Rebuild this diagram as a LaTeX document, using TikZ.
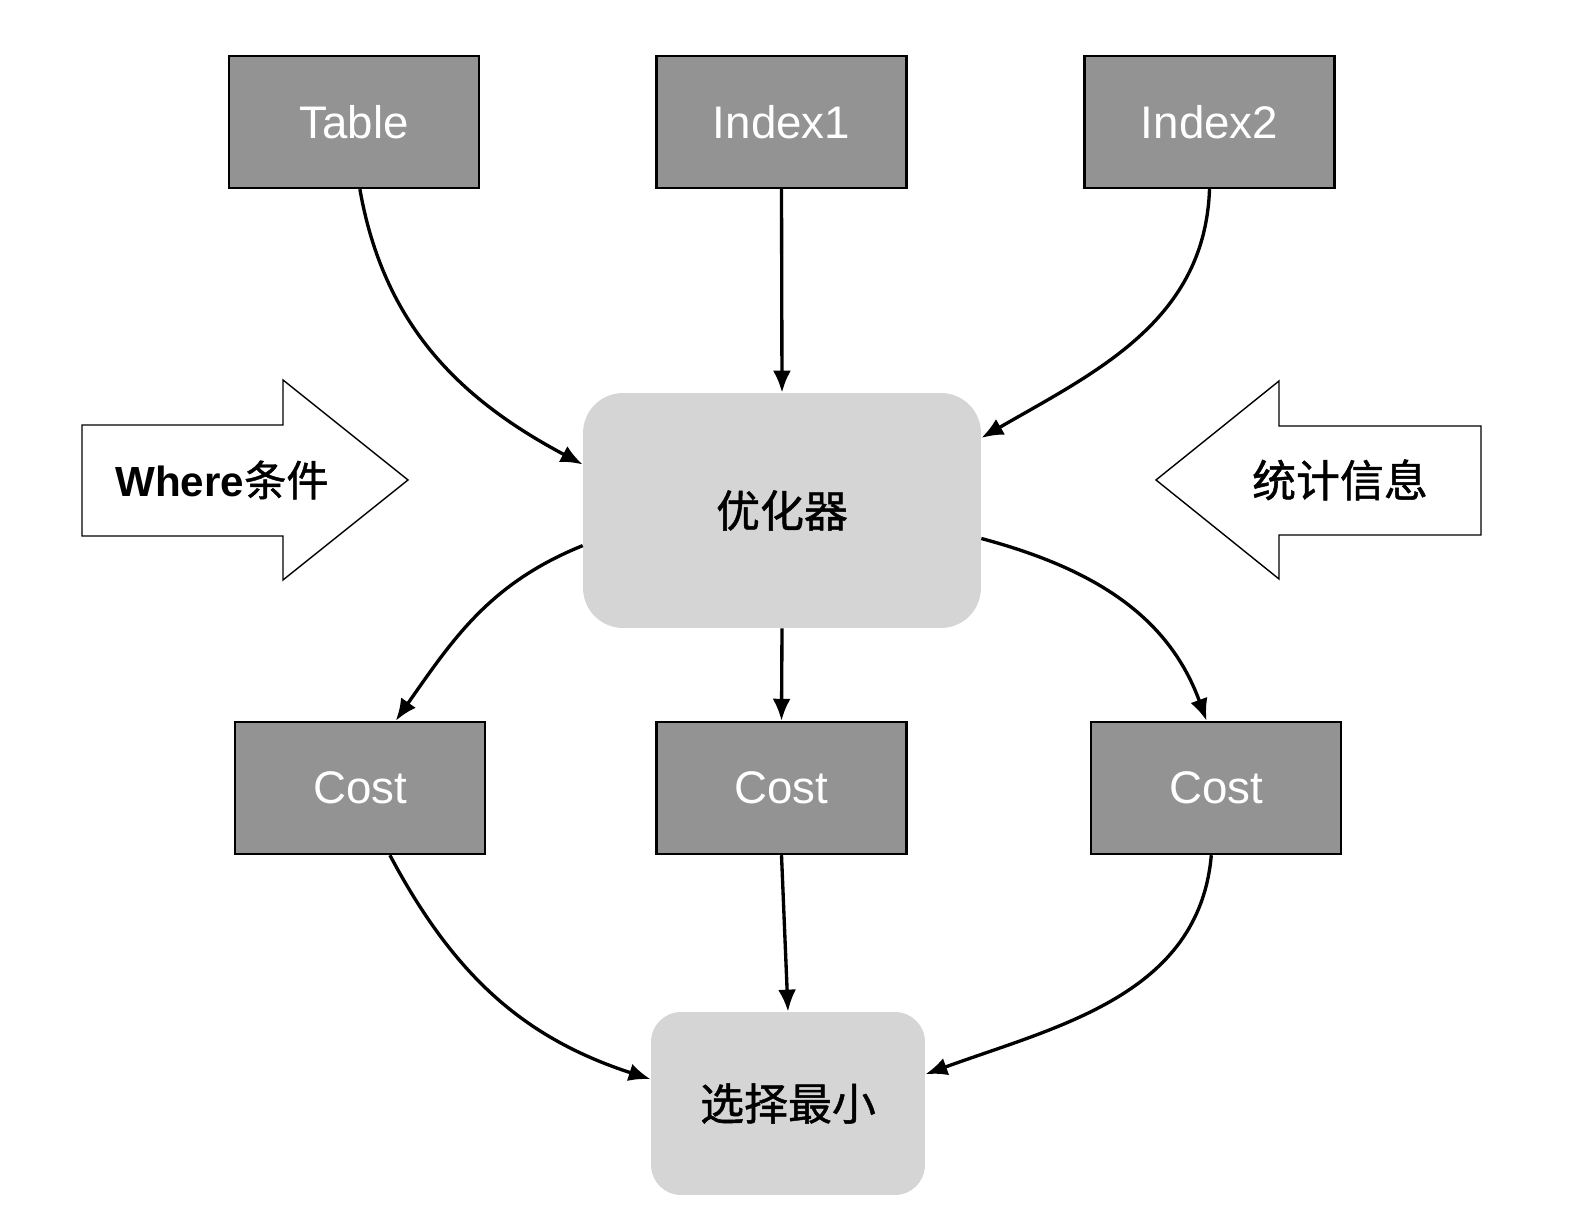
\documentclass[tikz,border=0pt]{standalone}
\usepackage{fontspec}
\setmainfont{Liberation Sans}
\newfontfamily\cjk[FakeBold=1.1]{Noto Sans CJK SC}
\usetikzlibrary{arrows.meta,positioning}
\definecolor{dgray}{RGB}{147,147,147}
\definecolor{lgray}{RGB}{213,213,213}

\begin{document}
\begin{tikzpicture}[x=0.02cm,y=0.02cm,
  box/.style={draw=black,line width=1.4pt,fill=dgray,minimum width=5cm,
              minimum height=2.64cm,inner sep=0pt,text=white,
              font=\fontsize{26}{30}\selectfont},
  rbox/.style={fill=lgray,inner sep=0pt,
               font=\cjk\fontsize{25}{30}\selectfont},
  arr/.style={-{Latex[length=4.4mm,width=3.6mm]},line width=1.9pt},
  fat/.style={draw=black,line width=0.8pt,fill=white}]
\useasboundingbox (0,0) rectangle (1572,1230);
\node[box] (tab) at (354,1108) {Table};
\node[box] (idx1) at (781.5,1108) {Index1};
\node[box] (idx2) at (1209.5,1108) {Index2};
\node[rbox,rounded corners=0.8cm,minimum width=7.96cm,minimum height=4.7cm]
  (opt) at (782,719.5) {优化器};
\node[box] (c1) at (360,442) {Cost};
\node[box] (c2) at (781.5,442) {Cost};
\node[box] (c3) at (1216,442) {Cost};
\node[rbox,rounded corners=0.6cm,minimum width=5.48cm,minimum height=3.66cm]
  (sel) at (788,126.5) {选择最小};
\draw[fat] (82,805)--(283,805)--(283,850)--(408,750)--(283,650)--(283,694)
  --(82,694)--cycle;
\draw[fat] (1481,804)--(1279,804)--(1279,849)--(1156,750)--(1279,651)
  --(1279,695)--(1481,695)--cycle;
\node[font=\fontsize{24}{28}\selectfont] (where) at (222,750)
  {\bfseries Where\mdseries\cjk 条件};
\node[font=\cjk\fontsize{25}{30}\selectfont] (stat) at (1340,750)
  {统计信息};
\draw[arr] (tab.-85) to[out=-80,in=152] (opt.167);
\draw[arr] (idx1.south)--(opt.north);
\draw[arr] (idx2.south) to[out=-92,in=30] (opt.20);
\draw[arr] (opt.190) to[out=202,in=55] (c1.62);
\draw[arr] (opt.south)--(c2.north);
\draw[arr] (opt.-8) to[out=-15,in=110] (c3.98);
\draw[arr] (c1.-66) to[out=-62,in=162] (sel.170);
\draw[arr] (c2.south)--(sel.north);
\draw[arr] (c3.-94) to[out=-95,in=20] (sel.12);
\end{tikzpicture}
\end{document}
